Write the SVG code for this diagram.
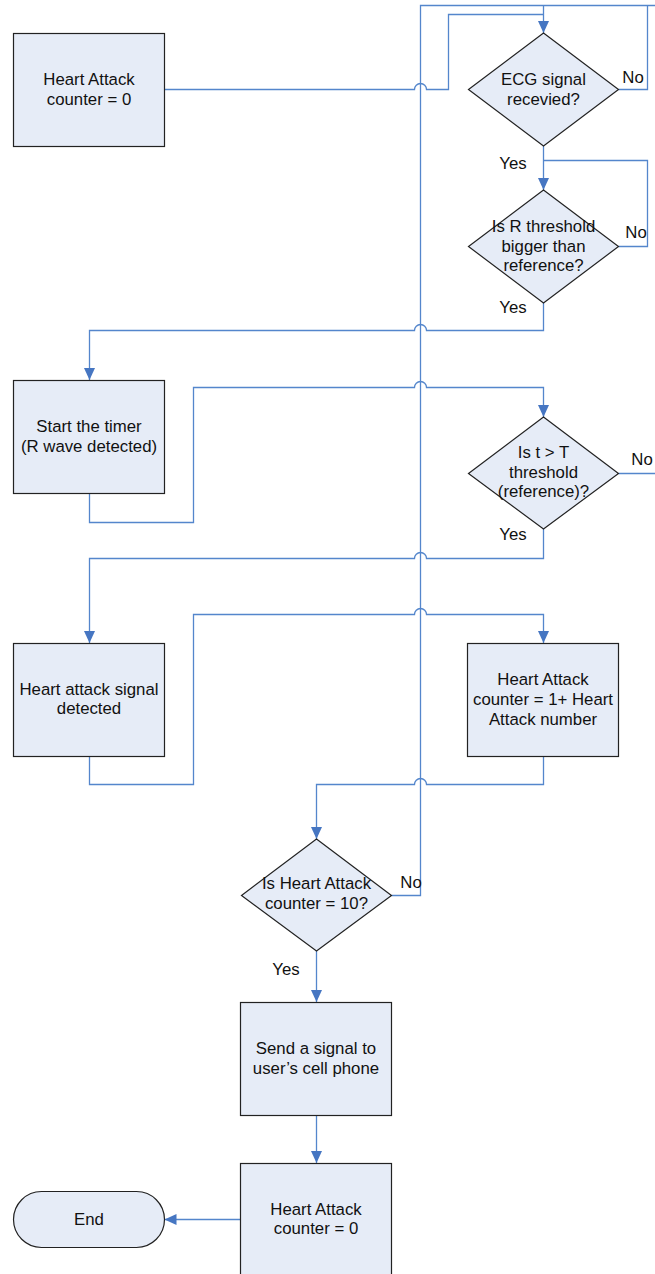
<svg xmlns="http://www.w3.org/2000/svg" width="655" height="1274" viewBox="0 0 655 1274">
<style>
.box{fill:#e6ecf7;stroke:#222;stroke-width:1.2}
.c{fill:none;stroke:#5486cc;stroke-width:1.3}
text{font-family:"Liberation Sans",Arial,sans-serif;font-size:16.8px;fill:#111;text-anchor:middle}
.lbl{text-anchor:middle}
</style>
<defs>
<marker id="ah" markerUnits="userSpaceOnUse" markerWidth="12" markerHeight="12" refX="12" refY="6" orient="auto" viewBox="0 0 12 12">
<path d="M0,0.5 L12,6 L0,11.5 z" fill="#4676c2"/>
</marker>
</defs>
<rect width="655" height="1274" fill="#fff"/>
<g id="connectors">
<path class="c" d="M164.5,89.5 H414.5 a6,6 0 0 1 12,0 H448.5 V14.5 H543.5"/>
<path class="c" d="M391.5,895.5 H420.5 V5.5 H655"/>
<path class="c" d="M618.5,89.5 H647.5 V5.5"/>
<path class="c" d="M543.5,5.5 V33" marker-end="url(#ah)"/>
<path class="c" d="M543.5,146 V190" marker-end="url(#ah)"/>
<path class="c" d="M618.5,246.5 H647.5 V160.5 H543.5"/>
<path class="c" d="M543.5,303 V330.5 H426.5 a6,6 0 0 0 -12,0 H89.5 V380" marker-end="url(#ah)"/>
<path class="c" d="M89.5,493 V522.5 H193.5 V387.5 H414.5 a6,6 0 0 1 12,0 H543.5 V417" marker-end="url(#ah)"/>
<path class="c" d="M618.5,473.5 H655"/>
<path class="c" d="M543.5,529 V558.5 H426.5 a6,6 0 0 0 -12,0 H89.5 V643" marker-end="url(#ah)"/>
<path class="c" d="M89.5,756 V784.5 H193.5 V614.5 H414.5 a6,6 0 0 1 12,0 H543.5 V643" marker-end="url(#ah)"/>
<path class="c" d="M543.5,756 V784.5 H426.5 a6,6 0 0 0 -12,0 H316.5 V839" marker-end="url(#ah)"/>
<path class="c" d="M316.5,951 V1002" marker-end="url(#ah)"/>
<path class="c" d="M316.5,1116 V1163" marker-end="url(#ah)"/>
<path class="c" d="M240.5,1219.5 H164.5" marker-end="url(#ah)"/>
</g>
<g id="labels">
<text x="633" y="83">No</text>
<text x="513" y="169">Yes</text>
<text x="636" y="238">No</text>
<text x="513" y="313">Yes</text>
<text x="642" y="465">No</text>
<text x="513" y="540">Yes</text>
<text x="411" y="888">No</text>
<text x="286" y="975">Yes</text>
</g>
<g id="n_start">
<rect class="box" x="13.5" y="33.5" width="151" height="113"/>
<text x="89" y="85">Heart Attack</text>
<text x="89" y="105">counter = 0</text>
</g>
<g id="n_ecg">
<polygon class="box" points="543.5,33 618.5,89.5 543.5,146 468.5,89.5"/>
<text x="543.5" y="85">ECG signal</text>
<text x="543.5" y="105">recevied?</text>
</g>
<g id="n_rthr">
<polygon class="box" points="543.5,190 618.5,246.5 543.5,303 468.5,246.5"/>
<text x="543.5" y="232">Is R threshold</text>
<text x="543.5" y="252">bigger than</text>
<text x="543.5" y="271">reference?</text>
</g>
<g id="n_timer">
<rect class="box" x="13.5" y="380.5" width="151" height="113"/>
<text x="89" y="432">Start the timer</text>
<text x="89" y="452">(R wave detected)</text>
</g>
<g id="n_tthr">
<polygon class="box" points="543.5,417 618.5,473.5 543.5,529 468.5,473.5"/>
<text x="543.5" y="458">Is t &gt; T</text>
<text x="543.5" y="478">threshold</text>
<text x="543.5" y="497">(reference)?</text>
</g>
<g id="n_signal">
<rect class="box" x="13.5" y="643.5" width="151" height="113"/>
<text x="89" y="695">Heart attack signal</text>
<text x="89" y="714">detected</text>
</g>
<g id="n_inc">
<rect class="box" x="467.5" y="643.5" width="151" height="113"/>
<text x="543" y="685">Heart Attack</text>
<text x="543" y="705">counter = 1+ Heart</text>
<text x="543" y="725">Attack number</text>
</g>
<g id="n_ten">
<polygon class="box" points="316.5,839 391.5,895.5 316.5,951 241.5,895.5"/>
<text x="316.5" y="889">Is Heart Attack</text>
<text x="316.5" y="909">counter = 10?</text>
</g>
<g id="n_send">
<rect class="box" x="240.5" y="1002.5" width="151" height="113"/>
<text x="316" y="1054">Send a signal to</text>
<text x="316" y="1074">user’s cell phone</text>
</g>
<g id="n_reset">
<rect class="box" x="240.5" y="1163.5" width="151" height="113"/>
<text x="316" y="1215">Heart Attack</text>
<text x="316" y="1234">counter = 0</text>
</g>
<g id="n_end">
<rect class="box" x="13.5" y="1191.5" width="151" height="56" rx="28" ry="28"/>
<text x="89" y="1225">End</text>
</g>
</svg>
